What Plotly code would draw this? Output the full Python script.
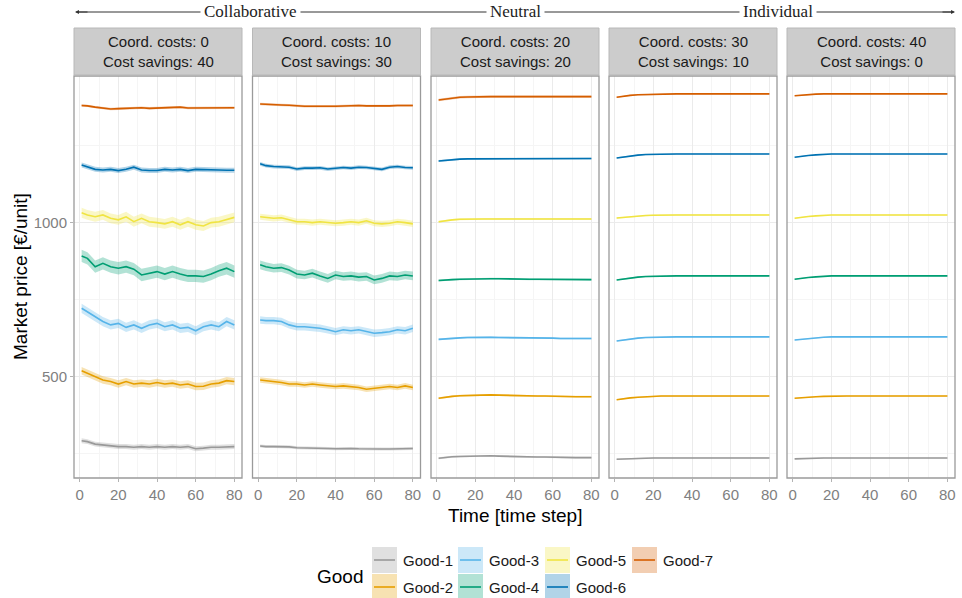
import plotly.graph_objects as go

# ---- data -----------------------------------------------------------------
time_steps = [1, 4, 8, 12, 16, 20, 24, 28, 32, 36, 40, 44, 48, 52, 56, 60, 64, 68, 72, 76, 80]

goods = ["Good-1", "Good-2", "Good-3", "Good-4", "Good-5", "Good-6", "Good-7"]
good_colors = ["#999999", "#E69F00", "#56B4E9", "#009E73", "#F0E442", "#0072B2", "#D55E00"]

coord_costs = [0, 10, 20, 30, 40]
cost_savings = [40, 30, 20, 10, 0]
regime_labels = ["Collaborative", "Neutral", "Individual"]

# mean market price per good, one list per scenario (coord. costs 0..40)
price_cc0 = [
    [293, 290, 282, 279, 276, 274, 274, 272, 274, 272, 274, 272, 274, 272, 274, 267, 269, 272, 272, 273, 274],
    [520, 512, 499, 490, 485, 477, 485, 477, 480, 477, 482, 477, 480, 474, 477, 469, 470, 477, 480, 488, 485],
    [723, 712, 696, 680, 669, 674, 661, 669, 658, 669, 674, 663, 669, 658, 661, 650, 663, 669, 663, 680, 669],
    [893, 885, 858, 869, 858, 853, 858, 850, 831, 837, 842, 834, 842, 834, 828, 828, 826, 834, 845, 853, 842],
    [1033, 1026, 1020, 1026, 1015, 1010, 1020, 1004, 1015, 1004, 1001, 997, 1004, 994, 1004, 994, 990, 1001, 1004, 1010, 1018],
    [1188, 1183, 1174, 1172, 1174, 1170, 1174, 1181, 1172, 1170, 1170, 1174, 1172, 1174, 1170, 1174, 1174, 1172, 1172, 1171, 1171],
    [1381, 1380, 1376, 1372, 1370, 1371, 1372, 1372, 1374, 1372, 1373, 1374, 1373, 1376, 1373, 1373, 1374, 1374, 1373, 1374, 1374],
]
price_cc10 = [
    [276, 274, 274, 274, 273, 270, 270, 270, 269, 268, 267, 268, 268, 267, 266, 265, 266, 266, 267, 267, 268],
    [490, 488, 485, 482, 477, 477, 474, 477, 474, 471, 469, 471, 469, 466, 460, 463, 466, 469, 466, 471, 466],
    [685, 683, 683, 680, 669, 663, 663, 661, 658, 653, 647, 653, 650, 653, 647, 642, 644, 647, 653, 650, 658],
    [864, 858, 853, 855, 847, 834, 831, 837, 828, 820, 831, 826, 828, 824, 826, 815, 820, 828, 826, 831, 828],
    [1020, 1017, 1015, 1017, 1010, 1004, 1004, 1001, 1004, 1001, 999, 1001, 1004, 1001, 1007, 999, 997, 999, 1004, 1001, 997],
    [1192, 1186, 1183, 1183, 1181, 1175, 1178, 1178, 1179, 1175, 1178, 1180, 1178, 1181, 1180, 1178, 1174, 1181, 1183, 1180, 1179],
    [1386, 1385, 1382, 1383, 1382, 1380, 1379, 1379, 1378, 1379, 1379, 1380, 1380, 1381, 1380, 1380, 1378, 1380, 1381, 1381, 1381],
]
price_cc20 = [
    [236, 239, 241, 242, 243, 244, 244, 244, 243, 242, 241, 241, 240, 240, 240, 239, 239, 239, 238, 238, 238],
    [431, 434, 437, 439, 440, 441, 442, 442, 441, 440, 439, 439, 439, 438, 438, 437, 437, 437, 436, 436, 436],
    [622, 624, 626, 627, 628, 629, 629, 629, 628, 628, 627, 627, 627, 626, 626, 626, 625, 625, 625, 625, 625],
    [813, 815, 816, 817, 818, 818, 818, 819, 819, 818, 818, 818, 817, 817, 817, 817, 816, 816, 816, 816, 816],
    [1004, 1007, 1010, 1012, 1013, 1013, 1013, 1013, 1013, 1013, 1013, 1013, 1013, 1014, 1014, 1013, 1013, 1013, 1013, 1013, 1013],
    [1201, 1203, 1205, 1207, 1208, 1208, 1208, 1209, 1209, 1209, 1209, 1209, 1209, 1208, 1208, 1208, 1208, 1209, 1209, 1209, 1209],
    [1399, 1402, 1405, 1408, 1409, 1410, 1410, 1410, 1410, 1410, 1410, 1410, 1410, 1411, 1411, 1411, 1410, 1410, 1410, 1410, 1410],
]
price_cc30 = [
    [233, 234, 235, 236, 236, 237, 237, 237, 237, 237, 237, 237, 237, 237, 237, 237, 237, 237, 237, 237, 237],
    [426, 429, 432, 434, 436, 437, 438, 438, 438, 438, 438, 438, 438, 438, 438, 438, 438, 438, 438, 438, 438],
    [617, 620, 624, 626, 628, 629, 630, 630, 630, 630, 630, 630, 630, 630, 630, 630, 630, 630, 630, 630, 630],
    [815, 818, 822, 824, 826, 827, 828, 828, 828, 828, 828, 828, 828, 828, 828, 828, 828, 828, 828, 828, 828],
    [1016, 1018, 1021, 1023, 1024, 1025, 1026, 1026, 1026, 1026, 1026, 1026, 1026, 1026, 1026, 1026, 1026, 1026, 1026, 1026, 1026],
    [1211, 1214, 1218, 1220, 1222, 1223, 1224, 1224, 1224, 1224, 1224, 1224, 1224, 1224, 1224, 1224, 1224, 1224, 1224, 1224, 1224],
    [1408, 1411, 1414, 1416, 1417, 1418, 1419, 1419, 1419, 1419, 1419, 1419, 1419, 1419, 1419, 1419, 1419, 1419, 1419, 1419, 1419],
]
price_cc40 = [
    [234, 235, 236, 236, 237, 237, 237, 237, 237, 237, 237, 237, 237, 237, 237, 237, 237, 237, 237, 237, 237],
    [431, 433, 435, 436, 437, 438, 438, 438, 438, 438, 438, 438, 438, 438, 438, 438, 438, 438, 438, 438, 438],
    [620, 622, 625, 627, 629, 630, 630, 630, 630, 630, 630, 630, 630, 630, 630, 630, 630, 630, 630, 630, 630],
    [817, 820, 823, 825, 827, 828, 828, 828, 828, 828, 828, 828, 828, 828, 828, 828, 828, 828, 828, 828, 828],
    [1015, 1018, 1021, 1023, 1025, 1026, 1026, 1026, 1026, 1026, 1026, 1026, 1026, 1026, 1026, 1026, 1026, 1026, 1026, 1026, 1026],
    [1213, 1216, 1219, 1221, 1223, 1224, 1224, 1224, 1224, 1224, 1224, 1224, 1224, 1224, 1224, 1224, 1224, 1224, 1224, 1224, 1224],
    [1413, 1415, 1417, 1418, 1419, 1419, 1419, 1419, 1419, 1419, 1419, 1419, 1419, 1419, 1419, 1419, 1419, 1419, 1419, 1419, 1419],
]

# half-width of the confidence band per good, one list per scenario
band_cc0 = [8, 12, 15, 20, 16, 8, 4]
band_cc10 = [5, 9, 12, 14, 10, 6, 4]
band_cc20 = [3, 3, 3, 3, 3, 3, 4]
band_cc30 = [2, 2, 2, 2, 2, 2, 2]
band_cc40 = [1.5, 1.5, 1.5, 1.5, 1.5, 1.5, 1.5]

prices = [price_cc0, price_cc10, price_cc20, price_cc30, price_cc40]
bands = [band_cc0, band_cc10, band_cc20, band_cc30, band_cc40]

y_ticks = [500, 1000]
x_ticks = [0, 20, 40, 60, 80]

# ---- layout helpers -------------------------------------------------------
W, H = 962, 598
SANS = "Liberation Sans, Arial, sans-serif"
SERIF = "Liberation Serif, DejaVu Serif, serif"


def px(x):
    return x / W


def py(y):
    return 1 - y / H


def rgba(hex_color, a):
    h = hex_color.lstrip("#")
    r, g, b = int(h[0:2], 16), int(h[2:4], 16), int(h[4:6], 16)
    return f"rgba({r},{g},{b},{a})"


panel_left = [74, 252.5, 431, 609, 787]
panel_w = 168
plot_top, plot_bottom = 76, 478
strip_top = 28

fig = go.Figure()
shapes = []
annotations = []

for p in range(5):
    ax_id = "" if p == 0 else str(p + 1)
    xa, ya = "x" + ax_id, "y" + ax_id

    # confidence ribbons
    for g in range(len(goods)):
        mean = prices[p][g]
        hw = bands[p][g]
        upper = [m + hw for m in mean]
        lower = [m - hw for m in mean]
        fig.add_trace(go.Scatter(x=time_steps, y=upper, mode="lines", line=dict(width=0),
                                 xaxis=xa, yaxis=ya, showlegend=False, hoverinfo="skip"))
        fig.add_trace(go.Scatter(x=time_steps, y=lower, mode="lines", line=dict(width=0),
                                 fill="tonexty", fillcolor=rgba(good_colors[g], 0.3),
                                 xaxis=xa, yaxis=ya, showlegend=False, hoverinfo="skip"))
    # mean price lines
    for g in range(len(goods)):
        fig.add_trace(go.Scatter(x=time_steps, y=prices[p][g], mode="lines",
                                 line=dict(color=good_colors[g], width=1.6),
                                 name=goods[g], xaxis=xa, yaxis=ya, showlegend=False))

    x0 = panel_left[p]
    x1 = x0 + panel_w
    xkey = "xaxis" + ax_id
    ykey = "yaxis" + ax_id
    fig.update_layout(**{
        xkey: dict(domain=[px(x0), px(x1)], range=[-2.95, 83.95], anchor=ya,
                   tickvals=x_ticks, ticks="outside", ticklen=3, tickcolor="#B3B3B3",
                   tickfont=dict(family=SANS, size=15, color="#808080"),
                   showgrid=True, gridcolor="#EBEBEB", gridwidth=1,
                   minor=dict(tick0=10, dtick=20, showgrid=True, gridcolor="#F5F5F5", gridwidth=1),
                   zeroline=False, showline=False),
        ykey: dict(domain=[py(plot_bottom), py(plot_top)], range=[172, 1477], anchor=xa,
                   tickvals=y_ticks, ticks="outside" if p == 0 else "", ticklen=3,
                   tickcolor="#B3B3B3", showticklabels=(p == 0),
                   tickfont=dict(family=SANS, size=15, color="#808080"),
                   showgrid=True, gridcolor="#EBEBEB", gridwidth=1,
                   minor=dict(tick0=250, dtick=500, showgrid=True, gridcolor="#F5F5F5", gridwidth=1),
                   zeroline=False, showline=False),
    })

    # panel border
    shapes.append(dict(type="rect", xref="paper", yref="paper",
                       x0=px(x0), x1=px(x1), y0=py(plot_bottom), y1=py(plot_top),
                       line=dict(color="#9A9A9A", width=1.3), fillcolor="rgba(0,0,0,0)", layer="above"))
    # facet strip
    shapes.append(dict(type="rect", xref="paper", yref="paper",
                       x0=px(x0), x1=px(x1), y0=py(plot_top - 1), y1=py(strip_top),
                       line=dict(color="#B8B8B8", width=1), fillcolor="#CCCCCC", layer="above"))
    annotations.append(dict(xref="paper", yref="paper", x=px(x0 + panel_w / 2), y=py(52),
                            text=f"Coord. costs: {coord_costs[p]}<br>Cost savings: {cost_savings[p]}",
                            showarrow=False, xanchor="center", yanchor="middle",
                            font=dict(family=SANS, size=15, color="#1A1A1A")))

# regime arrow across the top
arrow_y = 12
shapes.append(dict(type="line", xref="paper", yref="paper", x0=px(77), x1=px(953),
                   y0=py(arrow_y), y1=py(arrow_y), line=dict(color="#333333", width=1)))
annotations.append(dict(xref="paper", yref="paper", x=px(75), y=py(arrow_y), ax=14, ay=0,
                        text="", showarrow=True, arrowhead=2, arrowsize=0.8, arrowwidth=1,
                        arrowcolor="#333333"))
annotations.append(dict(xref="paper", yref="paper", x=px(955), y=py(arrow_y), ax=-14, ay=0,
                        text="", showarrow=True, arrowhead=2, arrowsize=0.8, arrowwidth=1,
                        arrowcolor="#333333"))
for label, cx in zip(regime_labels, [250, 515, 778]):
    annotations.append(dict(xref="paper", yref="paper", x=px(cx), y=py(arrow_y), text=label,
                            showarrow=False, xanchor="center", yanchor="middle",
                            bgcolor="white", borderpad=3,
                            font=dict(family=SERIF, size=17, color="#222222")))

# axis titles
annotations.append(dict(xref="paper", yref="paper", x=px(20), y=py((plot_top + plot_bottom) / 2),
                        text="Market price [€/unit]", textangle=-90, showarrow=False,
                        xanchor="center", yanchor="middle",
                        font=dict(family=SANS, size=19, color="#000000")))
annotations.append(dict(xref="paper", yref="paper", x=px(515), y=py(515),
                        text="Time [time step]", showarrow=False,
                        xanchor="center", yanchor="middle",
                        font=dict(family=SANS, size=19, color="#000000")))

# legend for the goods (two rows, filled key with line)
annotations.append(dict(xref="paper", yref="paper", x=px(315), y=py(576), text="Good",
                        showarrow=False, xanchor="left", yanchor="middle",
                        font=dict(family=SANS, size=19, color="#000000")))
col_x = [372, 458, 545, 632]
row_y = [560, 587]
for g in range(len(goods)):
    col, row = g // 2, g % 2
    kx, ky = col_x[col], row_y[row]
    shapes.append(dict(type="rect", xref="paper", yref="paper",
                       x0=px(kx), x1=px(kx + 25), y0=py(ky + 13), y1=py(ky - 13),
                       line=dict(width=0), fillcolor=rgba(good_colors[g], 0.3)))
    shapes.append(dict(type="line", xref="paper", yref="paper",
                       x0=px(kx + 2), x1=px(kx + 23), y0=py(ky), y1=py(ky),
                       line=dict(color=good_colors[g], width=1.6)))
    annotations.append(dict(xref="paper", yref="paper", x=px(kx + 29), y=py(ky), text=goods[g],
                            showarrow=False, xanchor="left", yanchor="middle",
                            font=dict(family=SANS, size=15, color="#1A1A1A")))

fig.update_layout(width=W, height=H, margin=dict(l=0, r=0, t=0, b=0),
                  paper_bgcolor="white", plot_bgcolor="white",
                  shapes=shapes, annotations=annotations, showlegend=False)

fig.write_html("out.html")
